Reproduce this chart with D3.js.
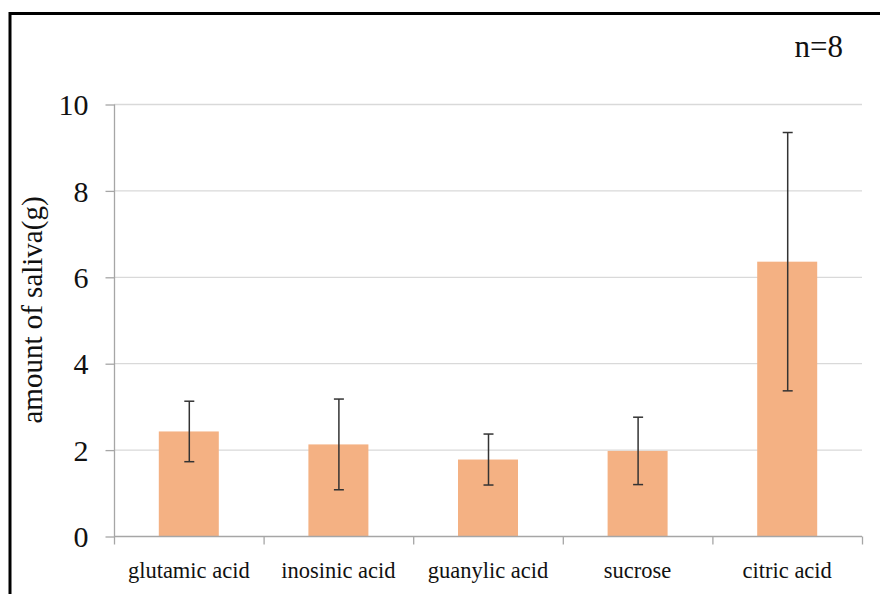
<!DOCTYPE html>
<html>
<head>
<meta charset="utf-8">
<script src="https://cdn.jsdelivr.net/npm/d3@7/dist/d3.min.js"></script>
<style>
  html, body { margin: 0; padding: 0; background: #fff; }
  svg { display: block; }
  text { font-family: "Liberation Serif", "DejaVu Serif", serif; fill: #111; }
</style>
</head>
<body>
<svg id="chart" width="880" height="594"></svg>
<script>
const categories = ["glutamic acid", "inosinic acid", "guanylic acid", "sucrose", "citric acid"];
const means = [2.42, 2.12, 1.77, 1.97, 6.35];
const errors = [0.70, 1.05, 0.59, 0.78, 2.99];
const yTicks = [0, 2, 4, 6, 8, 10];
const yLabel = "amount of saliva(g)";
const note = "n=8";

(function () {
const svg = d3.select("#chart");
const W = 880, H = 594;
const pLeft = 114, pRight = 862, pTop = 104, pBottom = 536;

// frame
svg.append("rect")
  .attr("x", 10).attr("y", 13.5)
  .attr("width", W + 20).attr("height", H + 20)
  .attr("fill", "none").attr("stroke", "#000").attr("stroke-width", 3);

const x = d3.scaleBand().domain(categories).range([pLeft, pRight]).paddingInner(0).paddingOuter(0);
const y = d3.scaleLinear().domain([0, 10]).range([pBottom, pTop]);

// gridlines
svg.append("g").selectAll("line").data(yTicks.filter(d => d > 0)).join("line")
  .attr("x1", pLeft).attr("x2", pRight)
  .attr("y1", d => y(d) + 0.5).attr("y2", d => y(d) + 0.5)
  .attr("stroke", "#d9d9d9").attr("stroke-width", 1.3);

// y axis
const yAxis = d3.axisLeft(y).tickValues(yTicks).tickSize(9).tickPadding(17).tickFormat(d3.format("d"));
const gy = svg.append("g").attr("transform", `translate(${pLeft + 0.5},0.5)`).call(yAxis);
gy.select(".domain").attr("stroke", "#a6a6a6").attr("stroke-width", 1.3).attr("d", `M0,${pTop}V${pBottom}`);
gy.selectAll(".tick line").attr("stroke", "#a6a6a6").attr("stroke-width", 1.3);
gy.selectAll(".tick text")
  .attr("font-family", '"Liberation Serif", "DejaVu Serif", serif')
  .attr("font-size", 30).attr("fill", "#111").attr("dy", "0.34em");

// bars
const bw = 60;
svg.append("g").selectAll("rect").data(categories).join("rect")
  .attr("x", (d) => x(d) + x.bandwidth() / 2 - bw / 2)
  .attr("width", bw)
  .attr("y", (d, i) => y(means[i]))
  .attr("height", (d, i) => y(0) - y(means[i]))
  .attr("fill", "#f4b183");

// x axis
const xAxis = d3.axisBottom(x).tickSize(0).tickFormat("");
const gx = svg.append("g").attr("transform", `translate(0,${pBottom + 0.5})`).call(xAxis);
gx.select(".domain").attr("stroke", "#a6a6a6").attr("stroke-width", 1.3).attr("d", `M${pLeft},0H${pRight}`);
gx.selectAll(".tick").remove();
const bounds = categories.map(d => x(d)).concat([pRight]);
gx.selectAll("line.sep").data(bounds).join("line")
  .attr("class", "sep")
  .attr("x1", d => d + 0.5).attr("x2", d => d + 0.5)
  .attr("y1", 0).attr("y2", 8)
  .attr("stroke", "#a6a6a6").attr("stroke-width", 1.3);
svg.append("g").selectAll("text").data(categories).join("text")
  .attr("x", d => x(d) + x.bandwidth() / 2)
  .attr("y", 578)
  .attr("text-anchor", "middle")
  .attr("font-size", 22.5)
  .text(d => d);

// error bars
const eg = svg.append("g").attr("stroke", "#333").attr("stroke-width", 1.5);
categories.forEach((c, i) => {
  const cx = x(c) + x.bandwidth() / 2 + 0.5;
  const hi = y(means[i] + errors[i]), lo = y(means[i] - errors[i]);
  eg.append("line").attr("x1", cx).attr("x2", cx).attr("y1", hi).attr("y2", lo);
  eg.append("line").attr("x1", cx - 5).attr("x2", cx + 5).attr("y1", hi).attr("y2", hi);
  eg.append("line").attr("x1", cx - 5).attr("x2", cx + 5).attr("y1", lo).attr("y2", lo);
});

// y label
svg.append("text")
  .attr("transform", `translate(42,310) rotate(-90)`)
  .attr("text-anchor", "middle")
  .attr("font-size", 29)
  .text(yLabel);

// note
svg.append("text")
  .attr("x", 843).attr("y", 57)
  .attr("text-anchor", "end")
  .attr("font-size", 31)
  .text(note);
})();
</script>
</body>
</html>
